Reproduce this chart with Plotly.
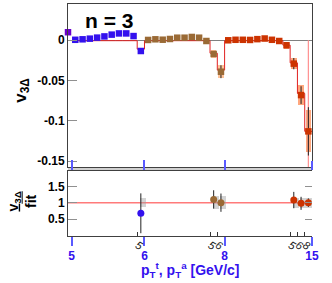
import plotly.graph_objects as go

# ---------------- data ----------------
purple_idx = [0]
purple_v = [0.010]

blue_idx = [1, 2, 3, 4, 5, 6, 7, 8, 9, 10]
blue_v = [0.0006, 0.0012, 0.0020, 0.0033, 0.0048, 0.0070, 0.0085, 0.0085, 0.0052, -0.0133]
blue_err = [0, 0, 0, 0, 0, 0, 0, 0, 0, 0.003]
blue_sys = [0, 0, 0, 0, 0, 0, 0, 0, 0, 0.004]

brown_idx = [11, 12, 13, 14, 15, 16, 17, 18, 19, 20, 21]
brown_v = [0.0004, 0.0012, 0.0007, 0.0016, 0.0032, 0.0032, 0.0041, 0.0032, -0.0009, -0.017, -0.039]
brown_err = [0, 0, 0, 0, 0, 0, 0, 0, 0, 0.003, 0.008]
brown_sys = [0, 0, 0, 0, 0, 0, 0, 0, 0.0008, 0.005, 0.008]

red_idx = [22, 23, 24, 25, 26, 27, 28, 29, 30, 31, 32, 33]
red_v = [0.0, 0.0006, 0.0006, 0.0004, 0.0014, 0.0022, 0.0006, -0.0009, -0.0062, -0.029, -0.068, -0.113]
red_err = [0, 0, 0, 0, 0, 0, 0, 0, 0.002, 0.007, 0.011, 0.030]
red_sys = [0, 0, 0, 0, 0, 0, 0, 0.0008, 0.004, 0.007, 0.012, 0.026]

fit_idx = list(range(1, 34))
fit_v = [-0.0005] * 9 + [-0.011] + [-0.0005] * 9 + [-0.016, -0.037] + [-0.0005] * 8 + [-0.006, -0.028, -0.066, -0.113]

ratio_idx = [10, 20, 21, 31, 32, 33]
ratio_v = [0.675, 1.10, 1.00, 1.08, 0.98, 1.00]
ratio_err = [0.61, 0.28, 0.28, 0.25, 0.20, 0.13]
ratio_sys = [0.13, 0.19, 0.19, 0.15, 0.15, 0.15]
ratio_col = ["#3311ee", "#9a6a35", "#9a6a35", "#cc3300", "#cc3300", "#cc3300"]

major_pos = [0.5, 10.5, 21.5, 33.5]
major_lab = ["5", "6", "8", "15"]
minor_pos = [9.5, 19.5, 20.5, 30.5, 31.5, 32.5]
minor_lab = ["5", "5", "6", "5", "6", "8"]

X_RANGE = [0, 33.5]
Y_TOP = [-0.1572, 0.045]
Y_BOT = [-0.02, 1.97]

FONT = "Liberation Sans, Arial, sans-serif"
BLUE = "#3311ee"
PURPLE = "#6a00cc"
BROWN = "#9a6a35"
RED = "#cc3300"

fig = go.Figure()

# ---- systematic boxes, top panel ----
def sysbars(idx, v, s, color, xa="x", ya="y"):
    xs = [i for i, e in zip(idx, s) if e > 0]
    bs = [vv - e for vv, e in zip(v, s) if e > 0]
    hs = [2 * e for e in s if e > 0]
    fig.add_trace(go.Bar(x=xs, y=hs, base=bs, width=0.75, marker=dict(color=color, line=dict(width=0)),
                         xaxis=xa, yaxis=ya, showlegend=False, hoverinfo="skip"))

sysbars(blue_idx, blue_v, blue_sys, "rgba(90,90,255,0.55)")
sysbars(brown_idx, brown_v, brown_sys, "rgba(255,170,110,0.7)")
sysbars(red_idx, red_v, red_sys, "rgba(255,130,70,0.7)")

# ---- fit step line ----
fx = [i - 0.5 for i in fit_idx] + [fit_idx[-1] + 0.5]
fy = fit_v + [fit_v[-1]]
fig.add_trace(go.Scatter(x=fx, y=fy, mode="lines", line=dict(color="#e02020", width=1, shape="hv"),
                         xaxis="x", yaxis="y", showlegend=False, hoverinfo="skip"))
fig.add_trace(go.Scatter(x=[fit_idx[-1], fit_idx[-1]], y=[0, Y_TOP[0]], mode="lines",
                         line=dict(color="#ff9090", width=1.2), xaxis="x", yaxis="y",
                         showlegend=False, hoverinfo="skip"))

# ---- data points, top panel ----
def pts(idx, v, err, color, xa="x", ya="y", symbol="square", size=6.5):
    fig.add_trace(go.Scatter(x=idx, y=v, mode="markers",
                             marker=dict(symbol=symbol, size=size, color=color, line=dict(width=0)),
                             error_y=dict(type="data", array=err, color="#222222", thickness=1, width=0),
                             xaxis=xa, yaxis=ya, showlegend=False, cliponaxis=False))

pts(purple_idx, purple_v, [0], PURPLE)
pts(blue_idx, blue_v, blue_err, BLUE)
pts(brown_idx, brown_v, brown_err, BROWN)
pts(red_idx, red_v, red_err, RED)

# ---- ratio panel ----
fig.add_trace(go.Bar(x=[i + 0.3 for i in ratio_idx], y=[2 * s for s in ratio_sys],
                     base=[1 - s for s in ratio_sys], width=0.9,
                     marker=dict(color="rgba(160,160,160,0.45)", line=dict(width=0)),
                     xaxis="x2", yaxis="y2", showlegend=False, hoverinfo="skip"))
fig.add_shape(type="line", xref="x2 domain", yref="y2", x0=0, x1=1, y0=1, y1=1,
              line=dict(color="#ff7a7a", width=1.5), layer="below")
fig.add_trace(go.Scatter(x=ratio_idx, y=ratio_v, mode="markers",
                         marker=dict(symbol="circle", size=7, color=ratio_col, line=dict(width=0)),
                         error_y=dict(type="data", array=ratio_err, color="#222222", thickness=1, width=0),
                         xaxis="x2", yaxis="y2", showlegend=False))

# gap band between panels
fig.add_shape(type="rect", xref="paper", yref="paper", x0=0, x1=1, y0=0.2802, y1=0.2974,
              fillcolor="#d0d0d0", line=dict(width=0), layer="below")

axcol = "#404040"
fig.update_layout(
    width=332, height=283,
    margin=dict(l=68, r=20, t=4, b=47),
    paper_bgcolor="white", plot_bgcolor="rgba(0,0,0,0)",
    barmode="overlay", bargap=0,
    font=dict(family=FONT, color="black"),
    xaxis=dict(domain=[0, 1], anchor="y", range=X_RANGE, showgrid=False, zeroline=False,
               showline=True, linecolor=axcol, linewidth=1, mirror=True,
               tickmode="array", tickvals=major_pos, ticktext=major_lab, showticklabels=False,
               ticks="inside", ticklen=7, tickcolor="#5a5aff", tickwidth=1.5),
    yaxis=dict(domain=[0.2974, 1], anchor="x", range=Y_TOP, showgrid=False,
               zeroline=True, zerolinecolor="#808080", zerolinewidth=1,
               showline=True, linecolor=axcol, linewidth=1, mirror=True,
               tickmode="array", tickvals=[0, -0.05, -0.1, -0.15], ticktext=["0", "-0.05", "-0.1", "-0.15"],
               ticks="inside", ticklen=9, tickcolor="#909090",
               tickfont=dict(family=FONT, size=12, color="black", weight="bold")),
    xaxis2=dict(domain=[0, 1], anchor="y2", range=X_RANGE, showgrid=False, zeroline=False,
                showline=True, linecolor=axcol, linewidth=1, mirror="ticks",
                tickmode="array", tickvals=major_pos, ticktext=major_lab,
                ticks="outside", ticklen=9, tickcolor="#5a5aff", tickwidth=1.5,
                tickfont=dict(family=FONT, size=12, color=BLUE, weight="bold")),
    xaxis3=dict(overlaying="x2", anchor="y2", range=X_RANGE, showgrid=False, zeroline=False,
                showline=False, side="bottom",
                tickmode="array", tickvals=minor_pos, ticktext=minor_lab,
                ticks="inside", ticklen=4, tickcolor="#333333",
                tickfont=dict(family=FONT, size=11, color="#222222", style="italic")),
    yaxis2=dict(domain=[0, 0.2802], anchor="x2", range=Y_BOT, showgrid=False, zeroline=False,
                showline=True, linecolor=axcol, linewidth=1,
                tickmode="array", tickvals=[0.5, 1, 1.5], ticktext=["0.5", "1", "1.5"],
                ticks="inside", ticklen=9, tickcolor="#909090",
                tickfont=dict(family=FONT, size=12, color="black", weight="bold")),
    yaxis3=dict(overlaying="y2", anchor="x2", side="right", range=Y_BOT, showgrid=False, zeroline=False,
                showline=False, tickmode="array", tickvals=[0.5, 1, 1.5], showticklabels=False,
                ticks="inside", ticklen=7, tickcolor="#909090"),
)

# empty trace on overlay axes so they render
fig.add_trace(go.Scatter(x=[None], y=[None], xaxis="x3", yaxis="y3", showlegend=False))

fig.add_annotation(text="<b>n = 3</b>", xref="paper", yref="paper", x=0.167, y=0.927,
                   xanchor="center", yanchor="middle",
                   showarrow=False, font=dict(family=FONT, size=21, color="black"))
fig.add_annotation(text="<b>v</b><sub><b>3Δ</b></sub>", xref="paper", yref="paper", x=-0.19, y=0.629,
                   xanchor="center", yanchor="middle",
                   textangle=-90, showarrow=False, font=dict(family=FONT, size=17, color="black"))
fig.add_annotation(text="<b><u>v<sub>3Δ</sub></u></b><br><b>fit</b>", xref="paper", yref="paper",
                   x=-0.19, y=0.147, textangle=-90, showarrow=False,
                   xanchor="center", yanchor="middle",
                   font=dict(family=FONT, size=14, color="black"))
fig.add_annotation(text="<b>p<sub>T</sub><sup>t</sup>, p<sub>T</sub><sup>a</sup> [GeV/c]</b>",
                   xref="paper", yref="paper", x=0.503, y=-0.147, showarrow=False,
                   xanchor="center", yanchor="middle",
                   font=dict(family=FONT, size=14, color=BLUE))

fig.write_html("out.html", config={"displayModeBar": False},
               post_script="document.body.style.margin='0px';document.body.style.overflow='hidden';")
